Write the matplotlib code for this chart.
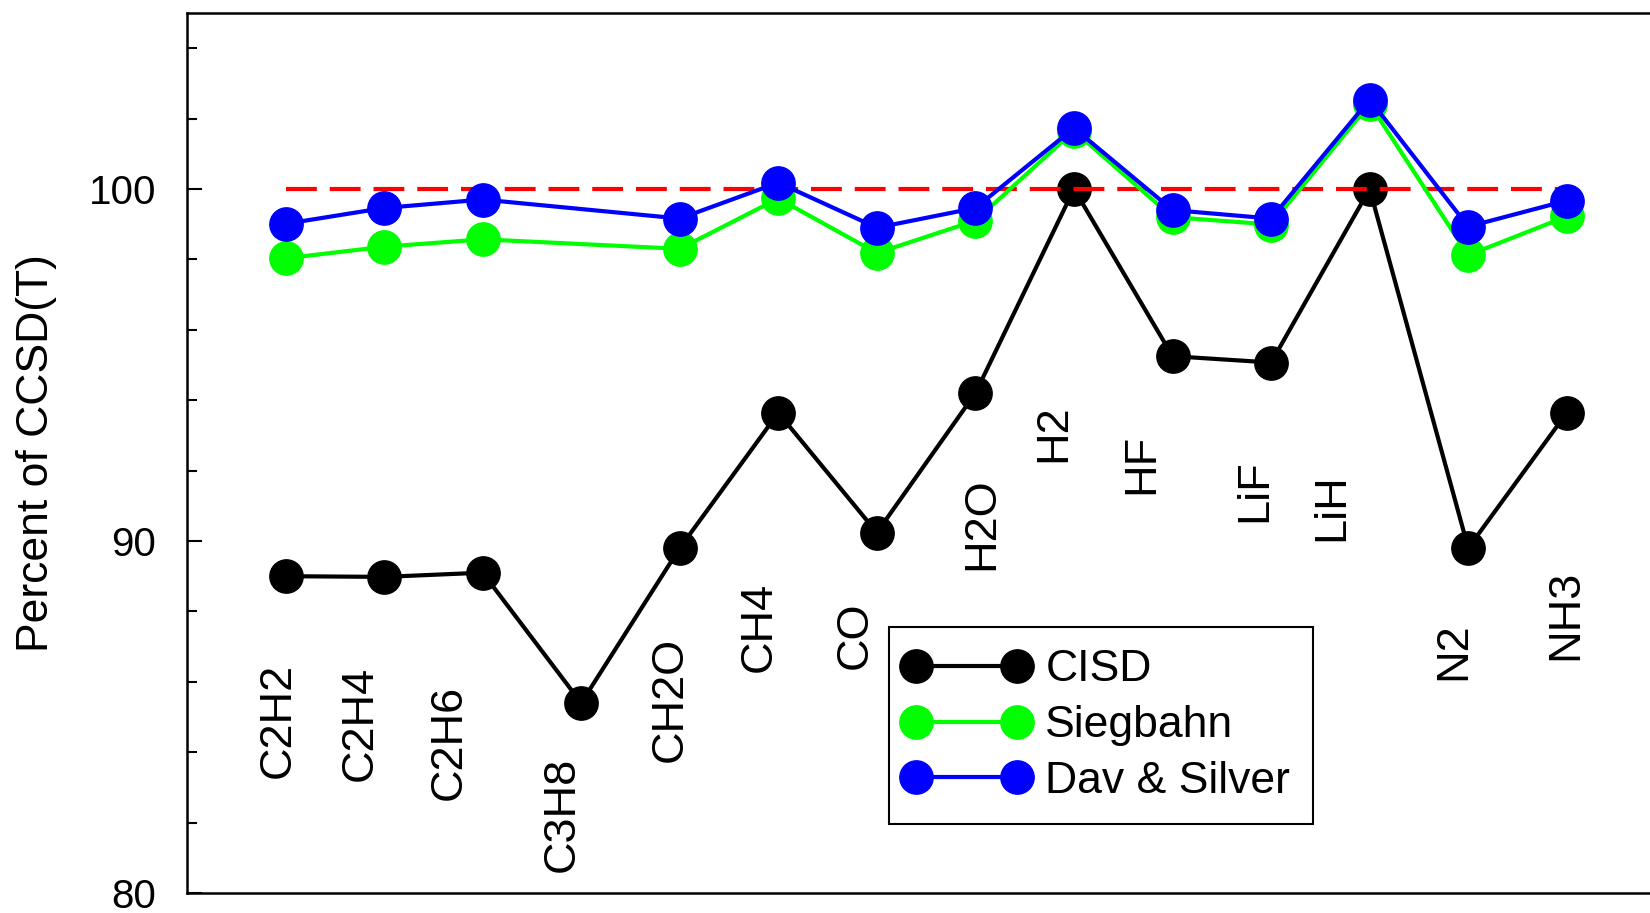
import matplotlib
matplotlib.use("Agg")
import matplotlib.pyplot as plt
from matplotlib.legend_handler import HandlerLine2D
import numpy as np

plt.rcParams['font.family'] = ['Liberation Sans', 'DejaVu Sans']

# molecules, in plot order
molecules = ['C2H2', 'C2H4', 'C2H6', 'C3H8', 'CH2O', 'CH4', 'CO',
             'H2O', 'H2', 'HF', 'LiF', 'LiH', 'N2', 'NH3']

# correlation energy as percent of CCSD(T)
cisd = [89.0, 88.98, 89.1, 85.4, 89.8, 93.64, 90.24,
        94.2, 100.0, 95.25, 95.07, 100.0, 89.8, 93.64]
siegbahn = [98.03, 98.36, 98.57, np.nan, 98.3, 99.73, 98.18,
            99.1, 101.65, 99.2, 98.99, 102.42, 98.12, 99.22]
dav_silver = [99.01, 99.46, 99.7, np.nan, 99.16, 100.18, 98.9,
              99.46, 101.73, 99.4, 99.16, 102.54, 98.93, 99.67]

# where the molecule names sit (x in index units, y = bottom of text)
name_x = [-0.07, 0.76, 1.66, 2.81, 3.90, 4.81, 5.78,
          7.06, 7.79, 8.69, 9.83, 10.62, 11.85, 12.99]
name_y = [83.28, 83.19, 82.63, 80.6, 83.73, 86.27, 86.36,
          89.19, 92.24, 91.34, 90.54, 90.0, 86.06, 86.63]

x = np.arange(len(molecules))

fig = plt.figure(figsize=(16.5, 9.13), dpi=100)
ax = fig.add_axes([0.1133, 0.0219, 0.8960, 0.9639])

ms = 24
ax.plot(x, cisd, color='black', lw=3, marker='o', ms=ms, label='CISD', zorder=2)
ax.plot([x[0], x[-1]], [100, 100], color='red', lw=3, dashes=(7.4, 3.1), zorder=3)

sg = np.array(siegbahn)
ok = ~np.isnan(sg)
ax.plot(x[ok], sg[ok], color='#00ff00', lw=3, marker='o', ms=ms, label='Siegbahn', zorder=4)
ds = np.array(dav_silver)
ok = ~np.isnan(ds)
ax.plot(x[ok], ds[ok], color='#0000ff', lw=3, marker='o', ms=ms, label='Dav & Silver', zorder=5)

for nm, tx, ty in zip(molecules, name_x, name_y):
    ax.text(tx, ty, nm, rotation=90, ha='center', va='bottom', fontsize=32.5)

ax.set_xlim(-1, 14)
ax.set_ylim(80, 105)
ax.set_xticks([])
ax.set_yticks([80, 90, 100])
ax.set_yticks(np.arange(82, 105, 2), minor=True)
ax.tick_params(axis='y', which='major', direction='in', length=11, width=1.5,
               labelsize=29, pad=22)
ax.tick_params(axis='y', which='minor', direction='in', length=7, width=1.5)
ax.spines['right'].set_visible(False)
for s in ['left', 'top', 'bottom']:
    ax.spines[s].set_linewidth(1.8)

ax.set_ylabel('Percent of CCSD(T)', fontsize=32)
ax.yaxis.set_label_coords(-0.088, 0.5)

# legend markers sit close to the ends of the handle line
leg = ax.legend(loc='upper left', bbox_to_anchor=(0.475, 0.302), fontsize=32,
                numpoints=2, handlelength=2.47, handletextpad=0.545,
                borderpad=0.5, labelspacing=0.33, fancybox=False,
                framealpha=1, edgecolor='black', borderaxespad=0,
                handler_map={matplotlib.lines.Line2D: HandlerLine2D(marker_pad=0.1)})
leg.get_frame().set_linewidth(1.5)

fig.savefig('out.png', dpi=100)
